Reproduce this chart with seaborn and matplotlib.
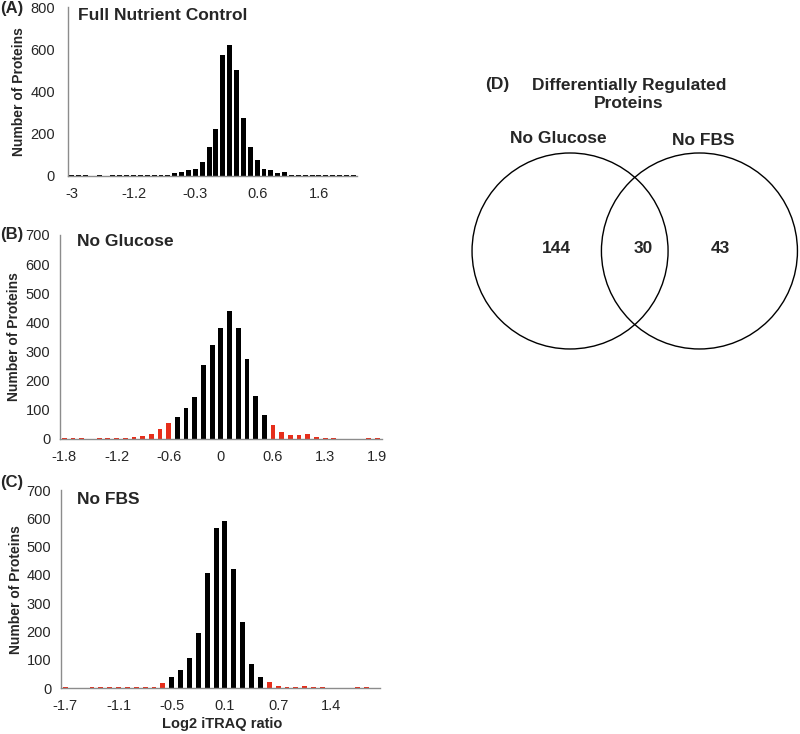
import numpy as np
import pandas as pd
import matplotlib
matplotlib.use("Agg")
import matplotlib.pyplot as plt
from matplotlib.patches import Circle
import seaborn as sns

# --- Dane: rozklady log2 iTRAQ (liczba bialek w kazdym przedziale) ---

ctrl_bins = ["-3", "-2.8", "-2.6", "-2.4", "-2.2", "-2", "-1.8", "-1.6", "-1.4", "-1.2",
             "-1.1", "-1", "-0.9", "-0.8", "-0.7", "-0.6", "-0.5", "-0.4", "-0.3", "-0.2",
             "-0.1", "0", "0.1", "0.2", "0.3", "0.4", "0.5", "0.6", "0.7", "0.8",
             "0.9", "1", "1.2", "1.3", "1.4", "1.5", "1.6", "1.8", "2", "2.2", "2.4", "2.6"]
ctrl_counts = [2, 2, 2, 0, 2, 0, 2, 2, 2, 2, 2, 2, 2, 2, 2,
               11, 17, 25, 31, 66, 137, 220, 573, 620, 504, 276, 137, 74, 31, 25, 13, 17,
               2, 2, 2, 2, 2, 2, 2, 2, 2, 2]

gluc_bins = ["-1.8", "-1.7", "-1.6", "-1.5", "-1.4", "-1.3", "-1.2", "-1.1", "-1", "-0.9",
             "-0.8", "-0.7", "-0.6", "-0.5", "-0.4", "-0.3", "-0.2", "-0.1", "0", "0.1",
             "0.2", "0.3", "0.4", "0.5", "0.6", "0.7", "0.8", "0.9", "1.1", "1.2",
             "1.3", "1.4", "1.5", "1.6", "1.7", "1.8", "1.9"]
gluc_counts = [3, 3, 3, 0, 3, 3, 4, 5, 7, 9, 17, 36, 55,
               74, 105, 144, 255, 322, 381, 440, 381, 273, 148, 83,
               49, 23, 15, 15, 17, 6, 3, 3, 0, 0, 0, 3, 3]

fbs_bins = ["-1.7", "-1.6", "-1.5", "-1.4", "-1.3", "-1.2", "-1.1", "-1", "-0.9", "-0.8",
            "-0.7", "-0.6", "-0.5", "-0.4", "-0.3", "-0.2", "-0.1", "0", "0.1", "0.2",
            "0.3", "0.4", "0.5", "0.6", "0.7", "0.8", "0.9", "1", "1.1", "1.2",
            "1.4", "1.5", "1.6", "1.7", "1.8", "1.9"]
fbs_counts = [3, 0, 0, 3, 3, 3, 3, 3, 3, 4, 6, 20,
              39, 65, 106, 194, 406, 567, 592, 421, 235, 86, 39,
              22, 8, 4, 4, 7, 4, 3, 0, 2, 0, 3, 3, 0]

# Diagram Venna
venn_sets = ["No Glucose", "No FBS"]
venn_counts = [144, 30, 43]   # tylko glukoza, wspolne, tylko FBS

# --- Styl ---
sns.set_style("white")
plt.rcParams["font.family"] = ["Liberation Sans", "DejaVu Sans"]

RED = "#e62e1b"
BLACK = "#000000"
AXIS_GREY = "#8c8c8c"
W, H = 800, 734


def px_box(left, top, right, bottom):
    return [left / W, 1 - bottom / H, (right - left) / W, (bottom - top) / H]


def histogram(ax, bins, counts, ymax, ystep, width, label_every, excel_ticks, threshold=None):
    df = pd.DataFrame({"bin": bins, "count": counts})
    if threshold is None:
        df["grp"] = "ns"
    else:
        df["grp"] = np.where(df["bin"].astype(float).abs() >= threshold, "reg", "ns")
    sns.barplot(data=df, x="bin", y="count", hue="grp", order=bins,
                palette={"ns": BLACK, "reg": RED}, dodge=False, width=width,
                saturation=1, errorbar=None, legend=False, linewidth=0, ax=ax)
    n = len(bins)
    ax.set_xlim(-0.5, n - 0.5)
    ax.set_ylim(0, ymax)
    ax.set_yticks(np.arange(0, ymax + 1, ystep))
    ax.set_xticks(range(0, n, label_every))
    ax.set_xticklabels(bins[::label_every])
    ax.set_xlabel("")
    ax.set_ylabel("Number of Proteins", fontsize=10, fontweight="bold")
    sns.despine(ax=ax)
    for s in ("left", "bottom"):
        ax.spines[s].set_color(AXIS_GREY)
        ax.spines[s].set_linewidth(1.0)
    ax.tick_params(axis="x", which="major", length=0, pad=8, labelsize=10.5)
    if excel_ticks:
        ax.set_xticks(np.arange(-0.5, n, 1), minor=True)
        ax.tick_params(axis="x", which="minor", length=3.5, color=AXIS_GREY, width=0.8)
        ax.tick_params(axis="y", length=3.5, color=AXIS_GREY, width=0.8, pad=3.5, labelsize=10.5)
    else:
        ax.tick_params(axis="y", length=0, pad=9.5, labelsize=10.5)


fig = plt.figure(figsize=(W / 100, H / 100), dpi=100)

# (A) kontrola
ax_a = fig.add_axes(px_box(68.3, 7.3, 356.7, 175.7))
histogram(ax_a, ctrl_bins, ctrl_counts, 800, 200, 0.72, 9, excel_ticks=False)
ax_a.yaxis.set_label_coords(-0.147, 0.5)
ax_a.text(0.034, 0.954, "Full Nutrient Control", transform=ax_a.transAxes,
          fontsize=12.5, fontweight="bold", ha="left", va="center")

# (B) bez glukozy
ax_b = fig.add_axes(px_box(60, 235, 381.7, 439))
histogram(ax_b, gluc_bins, gluc_counts, 700, 100, 0.55, 6, excel_ticks=True, threshold=0.55)
ax_b.yaxis.set_label_coords(-0.120, 0.5)
ax_b.text(0.053, 0.966, "No Glucose", transform=ax_b.transAxes,
          fontsize=12.5, fontweight="bold", ha="left", va="center")

# (C) bez FBS
ax_c = fig.add_axes(px_box(61, 490, 380, 688.3))
histogram(ax_c, fbs_bins, fbs_counts, 700, 100, 0.55, 6, excel_ticks=True, threshold=0.55)
ax_c.yaxis.set_label_coords(-0.119, 0.5)
ax_c.set_xlabel("Log2 iTRAQ ratio", fontsize=10.5, fontweight="bold")
ax_c.xaxis.set_label_coords(0.506, -0.145)
ax_c.text(0.05, 0.95, "No FBS", transform=ax_c.transAxes,
          fontsize=12.5, fontweight="bold", ha="left", va="center")

# etykiety paneli
for letter, ypx in (("(A)", 8), ("(B)", 235), ("(C)", 483)):
    fig.text(0.0, 1 - ypx / H, letter, fontsize=12, fontweight="bold", ha="left", va="center")

# (D) diagram Venna
ax_d = fig.add_axes(px_box(400, 60, 800, 460))
ax_d.set_xlim(-2.395, 1.686)
ax_d.set_ylim(-2.133, 1.949)
ax_d.axis("off")
SEP = 1.32
for cx in (-SEP / 2, SEP / 2):
    ax_d.add_patch(Circle((cx, 0), 1.0, fill=False, ec="black", lw=1.0, clip_on=False))
for x, v in zip((-0.80, 0.085, 0.87), venn_counts):
    ax_d.text(x, 0.03, str(v), fontsize=12.5, fontweight="bold", ha="center", va="center")
ax_d.text(-0.78, 1.15, venn_sets[0], fontsize=12.5, fontweight="bold", ha="center", va="center")
ax_d.text(0.70, 1.13, venn_sets[1], fontsize=12.5, fontweight="bold", ha="center", va="center")
ax_d.text(-1.405, 1.694, "(D)", fontsize=12.5, fontweight="bold", ha="center", va="center")
ax_d.text(-0.06, 1.597, "Differentially Regulated\nProteins", fontsize=12.5,
          fontweight="bold", ha="center", va="center", multialignment="center")

fig.savefig("out.png", dpi=100)
